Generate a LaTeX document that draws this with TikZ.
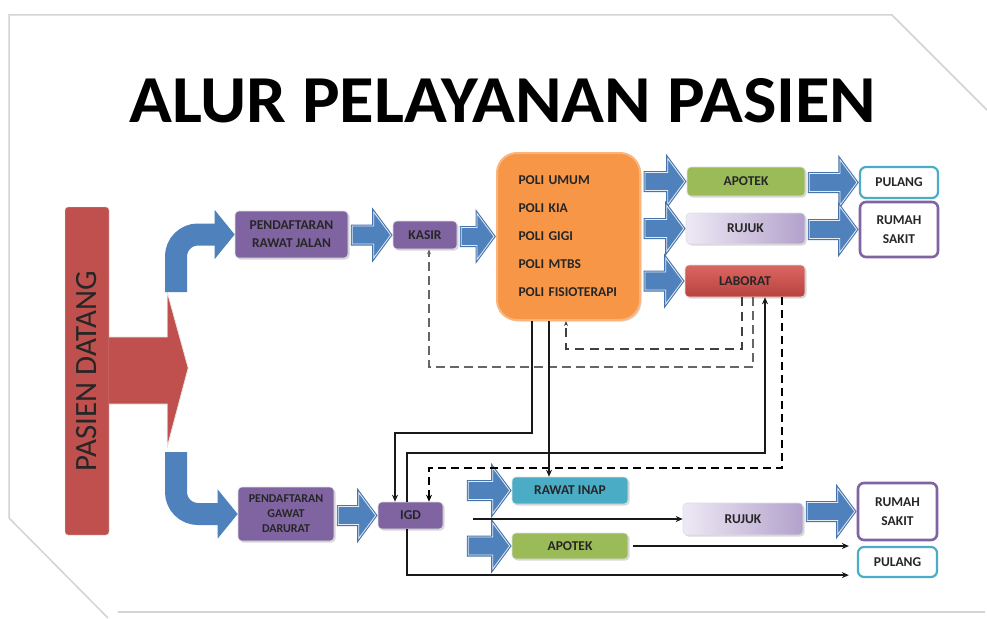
\documentclass[tikz,border=0pt]{standalone}
\usepackage{fontspec}
\setmainfont{Carlito}
\usepackage{graphicx}
\usetikzlibrary{calc}
\usetikzlibrary{arrows,arrows.meta}
\usetikzlibrary{shadows}

\definecolor{boxpurple}{HTML}{8064A2}
\definecolor{poliorange}{HTML}{F79646}
\definecolor{poliedge}{HTML}{FBB47C}
\definecolor{boxgreen}{HTML}{9BBB59}
\definecolor{boxteal}{HTML}{4BACC6}
\definecolor{boxred}{HTML}{C0504D}
\definecolor{arrblue}{HTML}{4F81BD}
\definecolor{rujukhi}{HTML}{EEE9F5}
\definecolor{rujuklo}{HTML}{B2A1CB}
\definecolor{labtop}{HTML}{DA6662}
\definecolor{labbot}{HTML}{B9423E}
\definecolor{framegray}{HTML}{D3D3D3}

\tikzset{
  box/.style={rounded corners=4pt, inner sep=0pt, align=center, text=black!85,
    font=\bfseries\fontsize{13.5}{18}\selectfont, draw=white!75!gray, line width=.6pt,
    drop shadow={opacity=.3, shadow xshift=1.5pt, shadow yshift=-1.5pt}},
  endbox/.style={rounded corners=6pt, inner sep=0pt, align=center, fill=white, text=black!85,
    font=\bfseries\fontsize{13.5}{19}\selectfont, line width=2.2pt},
  barrow/.style={fill=arrblue, draw=white!85!arrblue, line width=.8pt, line join=miter,
    preaction={draw=arrblue!90!black, line width=3pt}},
  bendarrow/.style={draw=arrblue, line width=22pt, rounded corners=22pt,
    -{Triangle[width=48pt,length=20pt]}},
  flow/.style={black!90, line width=1.3pt, ->},
  flowthick/.style={black!90, line width=2.2pt, ->},
  labdash/.style={black!75, line width=1.8pt, dash pattern=on 9pt off 6pt, ->},
  labthin/.style={black!60, line width=1.1pt, dash pattern=on 9pt off 5pt, ->},
  labthick/.style={black, line width=2.2pt, dash pattern=on 8pt off 5pt, ->}
}

\newcommand{\blockarrow}[2]{%
  \path[barrow] let \p1=#1, \p2=#2 in
    (\x1+4pt,\y2+9pt) -- (\x2-19pt,\y2+9pt) -- (\x2-19pt,\y2+23pt) -- (\x2-2pt,\y2)
    -- (\x2-19pt,\y2-23pt) -- (\x2-19pt,\y2-9pt) -- (\x1+4pt,\y2-9pt) -- cycle;}

\begin{document}
\begin{tikzpicture}[x=1pt, y=-1pt, >={Stealth[length=7pt,width=6pt]}]
\useasboundingbox (0,0) rectangle (987,618);
\fill[white] (0,0) rectangle (987,618);
\draw[framegray, line width=1.5pt] (987,110) -- (892,15) -- (9,15) -- (9,518) -- (108,618);
\draw[framegray, line width=1.5pt] (118,612) -- (985,612);

\node[anchor=base west, inner sep=0pt] (title) at (129,122)
  {\resizebox{747pt}{44pt}{\bfseries ALUR PELAYANAN PASIEN}};

% pasien datang
\node[rotate=90, fill=boxred, draw=white!75!gray, rounded corners=3pt, inner sep=0pt,
  minimum width=328, minimum height=44, text=black!85, font=\fontsize{31}{33}\selectfont]
  (pasien) at (87,371) {PASIEN DATANG};
\filldraw[fill=boxred, draw=white!80!gray, line width=.8pt]
  ($(pasien.south)+(0,-34)$) -- ++(58,0) -- ++(0,-45) -- ($(pasien.south)+(79,-3)$)
  -- ($(pasien.south)+(58,76)$) -- ++(0,-43) -- ($(pasien.south)+(0,33)$);

% rawat jalan
\node[box, fill=boxpurple, minimum width=113, minimum height=47] (pdrj) at (291.5,234.5) {PENDAFTARAN\\RAWAT JALAN};
\node[box, fill=boxpurple, minimum width=64, minimum height=28] (kasir) at (425,235) {KASIR};
\node[box, fill=poliorange, draw=poliedge, line width=2pt, rounded corners=20pt,
  minimum width=143, minimum height=167, text width=100pt, align=left,
  font=\bfseries\fontsize{13.5}{28}\selectfont] (poli) at (568.5,236.5)
  {POLI UMUM\\POLI KIA\\POLI GIGI\\POLI MTBS\\POLI FISIOTERAPI};
\node[box, fill=boxgreen, minimum width=118, minimum height=29] (apotek) at (746,181.5) {APOTEK};
\node[box, left color=rujukhi, right color=rujuklo, minimum width=119, minimum height=31] (rujuk) at (745.5,228.5) {RUJUK};
\node[box, top color=labtop, bottom color=labbot, minimum width=120, minimum height=32] (lab) at (745,281) {LABORAT};
\node[endbox, draw=boxteal, minimum width=78, minimum height=31] (pulang) at (899,182.5) {PULANG};
\node[endbox, draw=boxpurple, line width=2.6pt, minimum width=78, minimum height=55] (rs) at (899,229.5) {RUMAH\\SAKIT};

% gawat darurat
\node[box, fill=boxpurple, minimum width=96, minimum height=54,
  font=\bfseries\fontsize{12}{15}\selectfont] (pdgd) at (286,514) {PENDAFTARAN\\GAWAT\\DARURAT};
\node[box, fill=boxpurple, minimum width=65, minimum height=27] (igd) at (410.5,515.5) {IGD};
\node[box, fill=boxteal, minimum width=116, minimum height=27] (inap) at (570,490.5) {RAWAT INAP};
\node[box, fill=boxgreen, minimum width=116, minimum height=26] (apotekb) at (570,546) {APOTEK};
\node[box, left color=rujukhi, right color=rujuklo, minimum width=120, minimum height=32] (rujukb) at (743,519) {RUJUK};
\node[endbox, draw=boxpurple, line width=2.6pt, minimum width=79, minimum height=57] (rsb) at (897.5,511.5) {RUMAH\\SAKIT};
\node[endbox, draw=boxteal, minimum width=79, minimum height=30] (pulangb) at (897.5,562) {PULANG};

\draw[bendarrow] (176,292) |- (pdrj.west);
\draw[bendarrow] (176,452) |- (pdgd.west);

\blockarrow{(pdrj.east)}{(kasir.west)}
\blockarrow{(kasir.east)}{(poli.west)}
\blockarrow{(poli.east)}{(apotek.west)}
\blockarrow{(poli.east)}{(rujuk.west)}
\blockarrow{(poli.east)}{(lab.west)}
\blockarrow{(apotek.east)}{(pulang.west)}
\blockarrow{(rujuk.east)}{(rs.west)}
\blockarrow{(pdgd.east)}{(igd.west)}
\blockarrow{($(igd.east)+(21,0)$)}{(inap.west)}
\blockarrow{($(igd.east)+(21,0)$)}{(apotekb.west)}
\blockarrow{(rujukb.east)}{(rsb.west)}

% dari laborat
\draw[labdash, >={Stealth[length=5pt,width=4pt]}] (742,0 |- lab.south) |- (566,349) -- (566,0 |- poli.south);
\draw[labthin, >={Stealth[length=5pt,width=4pt]}] (753,0 |- lab.south) |- (429,367) -- (429,0 |- kasir.south);
\draw[labthick] (782,0 |- lab.south) |- (429,468) -- (429,0 |- igd.north);

% dari poli dan igd
\draw[flow] (532,0 |- poli.south) |- (395,433) -- (395,0 |- igd.north);
\draw[flowthick, line width=2pt] (549,0 |- poli.south) -- (549,0 |- inap.north);
\draw[flowthick] (407,0 |- igd.north) |- (765,453) -- (765,0 |- lab.south);
\draw[flowthick] (407,0 |- igd.south) |- ($(pulangb.south west)+(-8,-3)$);
\draw[flowthick, line width=2.5pt] (rujukb.west -| 473,0) -- (rujukb.west);
\draw[flowthick] ([xshift=5pt]apotekb.east) -- ($(apotekb.east -| pulangb.west)+(-8,0)$);

\end{tikzpicture}
\end{document}
